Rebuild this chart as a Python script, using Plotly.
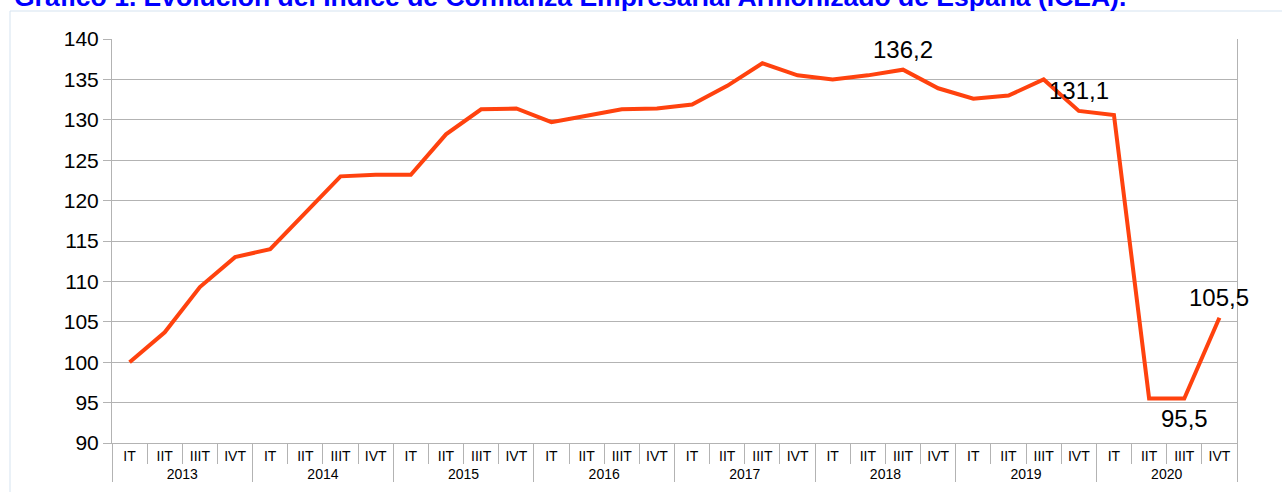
import plotly.graph_objects as go

years = ["2013", "2014", "2015", "2016", "2017", "2018", "2019", "2020"]
quarters = ["IT", "IIT", "IIIT", "IVT"]
values = [100.0, 103.7, 109.3, 113.0, 114.0, 118.5, 123.0, 123.2,
          123.2, 128.2, 131.3, 131.4, 129.7, 130.5, 131.3, 131.4,
          131.9, 134.2, 137.0, 135.5, 135.0, 135.5, 136.2, 133.9,
          132.6, 133.0, 135.0, 131.1, 130.6, 95.5, 95.5, 105.5]
labelled_points = [22, 27, 30, 31]
labels_below = [30]

x_year = [y for y in years for _ in quarters]
x_q = [q for _ in years for q in quarters]

FONT = "Liberation Sans, Arial, sans-serif"

fig = go.Figure()
fig.add_trace(go.Scatter(
    x=[x_year, x_q], y=values, mode="lines",
    line=dict(color="#ff420e", width=4),
    showlegend=False, hoverinfo="skip",
))

for i in labelled_points:
    v = values[i]
    fig.add_annotation(
        x=i, y=v, xref="x", yref="y",
        text=f"{v:.1f}".replace(".", ","),
        showarrow=False, xanchor="center", yanchor="middle",
        yshift=-20 if i in labels_below else 20,
        font=dict(family=FONT, size=24, color="#000000"),
    )

fig.update_layout(
    width=1282, height=492,
    margin=dict(l=112, r=45, t=39, b=49),
    paper_bgcolor="white", plot_bgcolor="white",
    font=dict(family=FONT, color="#000000"),
    xaxis=dict(
        type="multicategory", range=[-0.5, len(values) - 0.5],
        showline=True, linecolor="#b3b3b3", linewidth=1,
        ticks="outside", ticklen=20, tickcolor="#b3b3b3", tickwidth=1,
        showdividers=True, dividercolor="#b3b3b3", dividerwidth=1,
        showgrid=False, mirror=False,
        tickfont=dict(size=14, color="#000000"),
    ),
    yaxis=dict(
        range=[90, 140], dtick=5, tick0=90,
        showgrid=True, gridcolor="#b3b3b3", gridwidth=1,
        showline=True, linecolor="#b3b3b3", linewidth=1, mirror=True,
        ticks="outside", ticklen=8, tickcolor="#b3b3b3",
        tickfont=dict(size=21, color="#000000"),
        zeroline=False,
    ),
)

fig.add_annotation(
    text="Gráfico 1. Evolución del Índice de Confianza Empresarial Armonizado de España (ICEA).",
    xref="paper", yref="paper", x=(12 - 112) / 1125, y=1 + 24.5 / 404,
    xanchor="left", yanchor="bottom", showarrow=False,
    font=dict(family=FONT, size=26.5, color="#0000ff", weight="bold"),
)
fig.add_shape(type="line", xref="paper", yref="paper",
              x0=(10 - 112) / 1125, x1=1 + 45 / 1125, y0=1 + 28 / 404, y1=1 + 28 / 404,
              line=dict(color="#d5e3f0", width=1))
fig.add_shape(type="line", xref="paper", yref="paper",
              x0=(10 - 112) / 1125, x1=(10 - 112) / 1125, y0=1 + 28 / 404, y1=-49 / 404,
              line=dict(color="#d5e3f0", width=1))

fig.write_html("out.html", config={"displayModeBar": False},
               post_script="document.body.style.margin='0';")
